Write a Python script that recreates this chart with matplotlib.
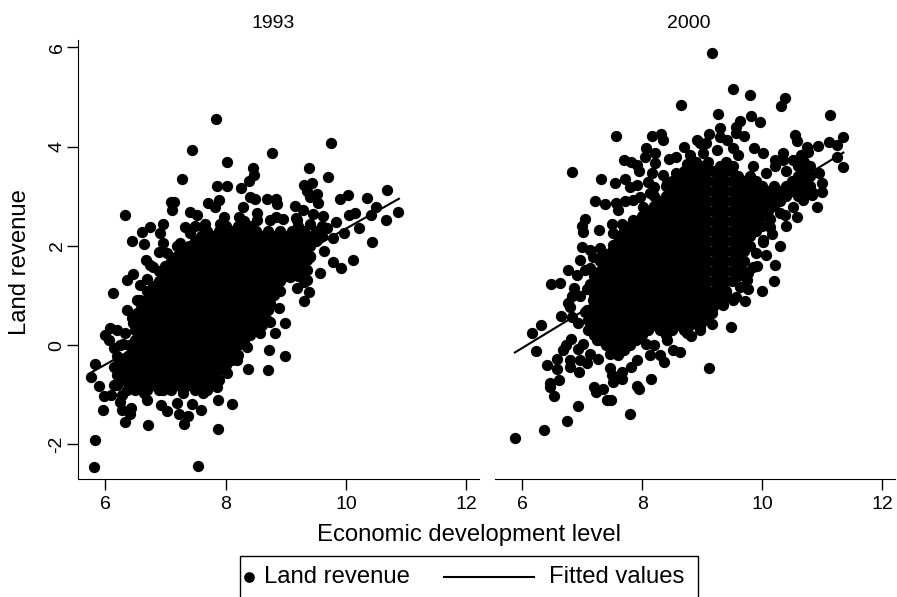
import matplotlib
matplotlib.use("Agg")
import matplotlib.pyplot as plt
from matplotlib.lines import Line2D
from matplotlib.patches import Rectangle

plt.rcParams['font.family'] = ['Liberation Sans', 'DejaVu Sans']

W, H = 897, 597

# 1993 - points readable on the edge of the cloud
edge93 = [
    (7.84,4.56),(7.44,3.93),(8.02,3.70),(8.77,3.88),(9.75,4.08),(7.28,3.34),(6.33,2.63),(9.38,3.56),
    (9.70,3.38),(8.46,3.56),(8.475,3.43),(8.39,3.30),(8.26,3.17),(7.855,3.21),(8.02,3.21),(9.30,3.23),
    (9.44,3.26),(9.36,3.11),(9.52,3.04),(9.41,2.99),(9.53,2.86),(9.90,2.94),(10.03,3.02),(10.35,2.96),
    (10.68,3.12),(10.50,2.79),(10.87,2.69),(10.66,2.53),(10.42,2.62),(10.15,2.67),(10.05,2.62),(10.21,2.37),
    (10.44,2.08),(10.11,1.71),(9.92,1.55),(9.79,1.68),(9.64,1.90),(9.57,1.45),(9.96,2.25),(9.79,2.15),
    (9.83,2.49),(5.76,-0.64),(5.83,-0.39),(5.90,-0.83),(5.98,-1.03),(6.09,-1.01),(5.96,-1.30),(6.33,-1.55),
    (6.71,-1.61),(7.31,-1.59),(7.38,-1.44),(7.88,-1.70),(5.83,-1.91),(5.81,-2.45),(7.55,-2.43),(7.88,-1.11),
    (8.10,-1.18),(7.59,-1.30),(7.22,-1.39),(7.02,-1.32),(6.93,-1.21),(7.20,-1.16),(7.44,-1.18),(6.42,-1.39),
    (6.43,-1.26),(6.28,-1.31),(6.25,-1.14),(6.28,-1.01),(6.70,-1.11),(8.37,-0.49),(8.71,-0.50),(8.99,-0.23),
    (8.73,-0.10),(8.82,0.24),(8.99,0.44),(8.74,0.47),(8.89,0.74),(9.31,0.88),(9.38,1.06),(9.18,1.16),
    (9.30,1.28),(8.85,1.08),(9.35,1.51),(9.36,1.71),(6.13,1.04),(6.36,0.71),(6.53,0.91),(6.37,1.31),
    (6.46,1.44),(6.58,1.21),(6.69,1.34),(6.68,1.71),(6.75,1.61),(6.45,2.09),(6.65,2.04),(6.61,2.27),
    (6.74,2.39),(6.97,2.45),(6.92,2.25),(6.96,2.05),(6.90,1.88),(7.20,2.00),(7.10,2.89),(7.15,2.89),
    (7.11,2.72),(7.41,2.69),(7.52,2.62),(7.33,2.39),(7.50,2.40),(7.66,2.44),(7.71,2.86),(7.89,2.92),
    (7.83,2.78),(7.97,2.59),(8.29,2.78),(8.22,2.59),(8.41,2.98),(8.49,2.94),(8.69,2.94),(8.84,2.94),
    (8.86,2.84),(8.52,2.67),(8.84,2.59),(8.96,2.55),(9.16,2.80),(9.29,2.72),(9.17,2.57),(9.46,2.64),
    (9.62,2.60),(6.00,0.20),(6.08,0.34),(6.19,0.30),(6.06,0.11),(6.14,-0.05),(6.25,0.00),(6.44,0.54),
    (6.19,-0.50),(6.17,-0.81),
    (6.53,0.64),(6.58,0.91),(6.47,0.44),(6.33,0.24),(6.30,0.03),(6.19,-0.23),(6.14,-0.44),(6.80,1.58),
    (7.03,1.85),(7.25,2.05),(7.41,2.25),(7.63,2.39),(7.91,2.45),(8.52,2.52),(8.74,2.52),(9.18,2.52),
    (9.41,2.45),(9.68,2.35),(9.52,2.12),(9.41,1.78),(9.35,1.31),(9.07,1.38),(8.85,1.18),(8.74,0.84),
    (8.69,0.50),(8.58,0.24),(8.35,-0.03),(8.19,-0.30),(8.02,-0.57),(7.86,-0.84),(7.63,-0.97),(7.30,-0.97),
    (6.97,-0.91),(6.64,-0.97),(6.36,-0.91),(6.14,-0.81),
]

# 1993 - the solid middle, dots can't be told apart there so read as columns
core93_x = [6.2, 6.3, 6.4, 6.5, 6.6, 6.7, 6.8, 6.9, 7.0, 7.1, 7.2, 7.3, 7.4, 7.5, 7.6, 7.7, 7.8, 7.9,
            8.0, 8.1, 8.2, 8.3, 8.4, 8.5, 8.6, 8.7, 8.8, 8.9, 9.0, 9.1, 9.2, 9.3, 9.4, 9.5, 9.6]
core93_y = [
    [-0.8,-0.6,-0.4],
    [-0.7,-0.5,-0.3],
    [-0.8,-0.6,-0.4,-0.2,0],
    [-0.9,-0.7,-0.5,-0.3,-0.1,0.1,0.3,0.5],
    [-0.8,-0.6,-0.4,-0.2,0,0.2,0.4,0.6,0.8],
    [-0.9,-0.7,-0.5,-0.3,-0.1,0.1,0.3,0.5,0.7,0.9,1.1],
    [-0.8,-0.6,-0.4,-0.2,0,0.2,0.4,0.6,0.8,1.0,1.2],
    [-0.9,-0.7,-0.5,-0.3,-0.1,0.1,0.3,0.5,0.7,0.9,1.1,1.3,1.5],
    [-0.8,-0.6,-0.4,-0.2,0,0.2,0.4,0.6,0.8,1.0,1.2,1.4,1.6],
    [-0.9,-0.7,-0.5,-0.3,-0.1,0.1,0.3,0.5,0.7,0.9,1.1,1.3,1.5,1.7],
    [-0.8,-0.6,-0.4,-0.2,0,0.2,0.4,0.6,0.8,1.0,1.2,1.4,1.6,1.8],
    [-0.9,-0.7,-0.5,-0.3,-0.1,0.1,0.3,0.5,0.7,0.9,1.1,1.3,1.5,1.7,1.9],
    [-0.8,-0.6,-0.4,-0.2,0,0.2,0.4,0.6,0.8,1.0,1.2,1.4,1.6,1.8,2.0],
    [-0.9,-0.7,-0.5,-0.3,-0.1,0.1,0.3,0.5,0.7,0.9,1.1,1.3,1.5,1.7,1.9,2.1],
    [-0.8,-0.6,-0.4,-0.2,0,0.2,0.4,0.6,0.8,1.0,1.2,1.4,1.6,1.8,2.0,2.2],
    [-0.9,-0.7,-0.5,-0.3,-0.1,0.1,0.3,0.5,0.7,0.9,1.1,1.3,1.5,1.7,1.9,2.1,2.3],
    [-0.8,-0.6,-0.4,-0.2,0,0.2,0.4,0.6,0.8,1.0,1.2,1.4,1.6,1.8,2.0,2.2],
    [-0.7,-0.5,-0.3,-0.1,0.1,0.3,0.5,0.7,0.9,1.1,1.3,1.5,1.7,1.9,2.1,2.3],
    [-0.4,-0.2,0,0.2,0.4,0.6,0.8,1.0,1.2,1.4,1.6,1.8,2.0,2.2,2.4],
    [-0.3,-0.1,0.1,0.3,0.5,0.7,0.9,1.1,1.3,1.5,1.7,1.9,2.1,2.3],
    [-0.2,0,0.2,0.4,0.6,0.8,1.0,1.2,1.4,1.6,1.8,2.0,2.2,2.4],
    [0.1,0.3,0.5,0.7,0.9,1.1,1.3,1.5,1.7,1.9,2.1,2.3,2.5],
    [0.2,0.4,0.6,0.8,1.0,1.2,1.4,1.6,1.8,2.0,2.2,2.4],
    [0.3,0.5,0.7,0.9,1.1,1.3,1.5,1.7,1.9,2.1,2.3],
    [0.4,0.6,0.8,1.0,1.2,1.4,1.6,1.8,2.0,2.2],
    [0.7,0.9,1.1,1.3,1.5,1.7,1.9,2.1,2.3],
    [1.0,1.2,1.4,1.6,1.8,2.0,2.2],
    [1.1,1.3,1.5,1.7,1.9,2.1,2.3],
    [1.4,1.6,1.8,2.0,2.2],
    [1.5,1.7,1.9,2.1,2.3],
    [1.4,1.6,1.8,2.0,2.2,2.4],
    [1.5,1.7,1.9,2.1,2.3],
    [1.8,2.0,2.2],
    [2.1,2.3],
    [2.2,2.4],
]

fit93_x = [5.76, 10.88]
fit93_y = [-0.56, 2.95]

# 2000
edge00 = [
    (9.17,5.88),(9.51,5.17),(9.80,5.05),(10.38,4.99),(10.31,4.82),(8.65,4.83),(9.27,4.65),(11.12,4.63),
    (9.81,4.62),(9.97,4.50),(9.63,4.51),(9.57,4.39),(9.30,4.38),(9.70,4.22),(9.56,4.27),(7.57,4.21),
    (8.17,4.21),(8.32,4.26),(8.35,4.13),(9.11,4.25),(8.91,4.13),(9.07,4.08),(9.41,4.13),(8.70,4.00),
    (10.54,4.23),(10.57,4.11),(10.74,4.00),(10.93,4.01),(11.11,4.09),(11.34,4.19),(11.24,4.03),(11.25,3.80),
    (11.35,3.58),(10.95,3.46),(10.99,3.26),(10.99,3.09),(10.91,2.78),(10.58,2.58),(10.40,2.41),(10.38,2.62),
    (6.84,3.48),(7.32,3.35),(7.21,2.90),(7.05,2.54),(7.00,2.40),(7.02,2.27),(7.28,2.31),(7.00,1.97),
    (6.77,1.51),(6.48,1.24),(6.63,1.26),(6.87,1.16),(6.31,0.40),(6.16,0.24),(6.65,0.59),(6.24,-0.12),
    (6.41,-0.40),(6.58,-0.29),(6.58,-0.49),(6.47,-0.77),(6.47,-0.84),(6.62,-0.70),(6.54,-1.02),(6.94,-1.22),
    (6.75,-1.54),(6.36,-1.71),(5.88,-1.87),(7.79,-1.39),(9.11,-0.46),(9.48,0.36),(9.16,0.43),
    (7.70,3.73),(7.81,3.70),(7.92,3.63),(7.94,3.50),(8.07,3.97),(8.05,3.80),(8.21,3.87),(8.21,3.68),
    (8.45,3.76),(8.17,3.47),(8.35,3.43),(7.55,3.27),(7.71,3.34),(7.80,3.19),(7.91,3.23),(8.10,3.29),
    (8.20,3.19),(7.38,2.84),(7.57,2.87),(7.71,2.91),(7.60,2.72),(7.85,2.92),(7.49,2.45),(7.66,2.45),
    (7.52,2.25),(7.13,1.92),(7.30,1.95),(6.97,1.71),(7.19,1.78),(6.91,1.41),(7.05,1.51),(7.13,1.55),
    (7.13,1.24),(7.09,1.14),(6.83,0.98),(6.97,0.98),(6.77,0.84),(6.80,0.77),(6.83,0.57),(6.94,0.44),
    (7.05,0.67),(6.74,0.00),(6.69,-0.10),(6.81,0.12),(6.94,-0.07),(7.02,0.02),(6.80,-0.30),(6.80,-0.44),
    (6.95,-0.54),(7.09,-0.37),(7.27,-0.29),(7.13,-0.17),(6.97,-0.30),(7.46,-0.47),(7.49,-0.60),(7.52,-0.75),
    (7.66,-0.54),(7.67,-0.69),(7.82,-0.44),(7.92,-0.30),(7.20,-0.85),(7.23,-0.95),(7.35,-0.89),(7.41,-1.11),
    (7.48,-1.11),(7.91,-0.83),(7.95,-0.89),(8.15,-0.69),(8.13,-0.20),(8.30,-0.20),(8.36,-0.34),(8.63,-0.14),
    (8.51,-0.10),(8.19,0.00),(8.81,0.19),(8.96,0.30),(9.16,0.64),(9.34,0.80),(9.52,0.91),(9.71,0.89),
    (9.57,0.97),(10.00,1.08),(10.19,1.30),(10.22,1.61),(9.92,1.60),(9.77,1.14),(9.77,1.45),(10.07,1.82),
    (10.29,2.00),(10.17,2.23),(10.01,2.08),(10.13,2.55),(9.86,3.97),(10.02,3.88),(10.34,3.88),(10.21,3.73),
    (10.21,3.61),(10.40,3.50),(10.35,3.73),(10.68,2.92),(10.82,3.03),(9.30,4.20),(9.24,3.93),(9.52,3.97),
    (9.60,3.83),(8.96,4.07),(8.57,3.80),(8.79,3.83),(9.02,3.87),
    (7.30,1.71),(7.35,1.85),(7.52,2.02),(7.74,2.39),(7.85,2.52),(8.02,2.79),(7.96,2.99),(8.13,3.06),
    (8.41,3.26),(8.57,3.46),(8.74,3.66),(7.16,1.21),(7.19,0.91),(7.08,0.71),(7.13,0.37),(7.24,0.10),
    (7.46,-0.17),(8.07,0.03),(8.41,0.10),(8.74,0.24),(8.96,0.37),(9.07,0.50),(9.18,0.77),(9.41,0.97),
    (9.63,1.18),(9.74,1.31),(9.85,1.58),(9.90,1.85),(10.02,2.12),(10.13,2.39),(10.29,2.66),(10.51,2.79),
    (10.07,3.46),(9.85,3.60),(9.52,3.60),(10.51,3.73),(10.65,3.83),(10.76,3.90),(10.65,3.46),(10.85,3.06),
    (10.65,3.13),
]

core00_x = [7.1, 7.2, 7.3, 7.4, 7.5, 7.6, 7.7, 7.8, 7.9, 8.0, 8.1, 8.2, 8.3, 8.4, 8.5, 8.6, 8.7, 8.8, 8.9,
            9.0, 9.1, 9.2, 9.3, 9.4, 9.5, 9.6, 9.7, 9.8, 9.9, 10.0, 10.1, 10.2, 10.3, 10.4, 10.5, 10.6, 10.7, 10.8]
core00_y = [
    [0.3,0.5,0.7],
    [0.2,0.4,0.6,0.8,1.0,1.2,1.4],
    [0.1,0.3,0.5,0.7,0.9,1.1,1.3,1.5,1.7],
    [0,0.2,0.4,0.6,0.8,1.0,1.2,1.4,1.6,1.8],
    [-0.1,0.1,0.3,0.5,0.7,0.9,1.1,1.3,1.5,1.7,1.9],
    [-0.2,0,0.2,0.4,0.6,0.8,1.0,1.2,1.4,1.6,1.8,2.0,2.2],
    [-0.1,0.1,0.3,0.5,0.7,0.9,1.1,1.3,1.5,1.7,1.9,2.1,2.3],
    [0,0.2,0.4,0.6,0.8,1.0,1.2,1.4,1.6,1.8,2.0,2.2,2.4],
    [0.1,0.3,0.5,0.7,0.9,1.1,1.3,1.5,1.7,1.9,2.1,2.3,2.5],
    [0.2,0.4,0.6,0.8,1.0,1.2,1.4,1.6,1.8,2.0,2.2,2.4,2.6],
    [0.3,0.5,0.7,0.9,1.1,1.3,1.5,1.7,1.9,2.1,2.3,2.5,2.7],
    [0.4,0.6,0.8,1.0,1.2,1.4,1.6,1.8,2.0,2.2,2.4,2.6,2.8,3.0],
    [0.3,0.5,0.7,0.9,1.1,1.3,1.5,1.7,1.9,2.1,2.3,2.5,2.7,2.9],
    [0.2,0.4,0.6,0.8,1.0,1.2,1.4,1.6,1.8,2.0,2.2,2.4,2.6,2.8,3.0,3.2],
    [0.3,0.5,0.7,0.9,1.1,1.3,1.5,1.7,1.9,2.1,2.3,2.5,2.7,2.9,3.1,3.3],
    [0.4,0.6,0.8,1.0,1.2,1.4,1.6,1.8,2.0,2.2,2.4,2.6,2.8,3.0,3.2,3.4],
    [0.3,0.5,0.7,0.9,1.1,1.3,1.5,1.7,1.9,2.1,2.3,2.5,2.7,2.9,3.1,3.3,3.5],
    [0.4,0.6,0.8,1.0,1.2,1.4,1.6,1.8,2.0,2.2,2.4,2.6,2.8,3.0,3.2,3.4,3.6],
    [0.5,0.7,0.9,1.1,1.3,1.5,1.7,1.9,2.1,2.3,2.5,2.7,2.9,3.1,3.3,3.5,3.7],
    [0.6,0.8,1.0,1.2,1.4,1.6,1.8,2.0,2.2,2.4,2.6,2.8,3.0,3.2,3.4,3.6],
    [0.7,0.9,1.1,1.3,1.5,1.7,1.9,2.1,2.3,2.5,2.7,2.9,3.1,3.3,3.5,3.7],
    [0.9,1.1,1.3,1.5,1.7,1.9,2.1,2.3,2.5,2.7,2.9,3.1,3.3,3.5],
    [1.0,1.2,1.4,1.6,1.8,2.0,2.2,2.4,2.6,2.8,3.0,3.2,3.4,3.6],
    [1.1,1.3,1.5,1.7,1.9,2.1,2.3,2.5,2.7,2.9,3.1,3.3,3.5,3.7],
    [1.3,1.5,1.7,1.9,2.1,2.3,2.5,2.7,2.9,3.1,3.3,3.5],
    [1.4,1.6,1.8,2.0,2.2,2.4,2.6,2.8,3.0,3.2,3.4],
    [1.5,1.7,1.9,2.1,2.3,2.5,2.7,2.9,3.1,3.3],
    [2.0,2.2,2.4,2.6,2.8,3.0,3.2,3.4],
    [2.3,2.5,2.7,2.9,3.1,3.3],
    [2.4,2.6,2.8,3.0,3.2],
    [2.7,2.9,3.1],
    [2.8,3.0,3.2],
    [2.9,3.1],
    [3.0,3.2],
    [3.1,3.3],
    [3.0,3.2,3.4,3.6],
    [3.1,3.3,3.5,3.7],
    [3.2,3.4,3.6],
]

fit00_x = [5.88, 11.35]
fit00_y = [-0.15, 3.88]

xticks = [6, 8, 10, 12]
yticks = [-2, 0, 2, 4, 6]
ylabels = ['-2', '0', '2', '4', '6']


def flatten(edge, core_x, core_y):
    xs = [p[0] for p in edge]
    ys = [p[1] for p in edge]
    for cx, col in zip(core_x, core_y):
        for v in col:
            xs.append(cx)
            ys.append(v)
    return xs, ys


def make_axes(fig, left, right):
    # pixel box -> figure fractions
    ax = fig.add_axes([left / W, 1 - 479 / H, (right - left) / W, (479 - 40) / H])
    ax.set_xlim(5.55, 12.21)
    ax.set_ylim(-2.70, 6.15)
    ax.set_xticks(xticks)
    ax.set_yticks(yticks, labels=ylabels)
    ax.spines['top'].set_visible(False)
    ax.spines['right'].set_visible(False)
    ax.tick_params(axis='x', length=8, width=1, labelsize=14, pad=4)
    ax.tick_params(axis='y', length=8, width=1, labelsize=14, pad=1)
    for lab in ax.get_yticklabels():
        lab.set_rotation(90)
        lab.set_va('center')
    return ax


fig = plt.figure(figsize=(W / 100, H / 100), dpi=100)

ax1 = make_axes(fig, 78, 479)
ax2 = make_axes(fig, 495, 895)

x93, y93 = flatten(edge93, core93_x, core93_y)
x00, y00 = flatten(edge00, core00_x, core00_y)

ax1.plot(fit93_x, fit93_y, color='black', lw=1.5)
ax1.scatter(x93, y93, s=66, color='black', linewidths=0, clip_on=False, zorder=3)
ax2.plot(fit00_x, fit00_y, color='black', lw=1.5)
ax2.scatter(x00, y00, s=66, color='black', linewidths=0, clip_on=False, zorder=3)

ax2.spines['left'].set_visible(False)
ax2.tick_params(axis='y', left=False, labelleft=False)

fig.text(273 / W, 1 - 23 / H, '1993', ha='center', va='center', fontsize=14)
fig.text(689 / W, 1 - 23 / H, '2000', ha='center', va='center', fontsize=14)
fig.text(469 / W, 1 - 535 / H, 'Economic development level', ha='center', va='center', fontsize=17.2)
fig.text(20 / W, 1 - 262 / H, 'Land revenue', ha='center', va='center', rotation=90, fontsize=17.2)

# legend box runs off the bottom of the image
fig.add_artist(Rectangle((239.5 / W, -0.05), (698 - 239.5) / W, 1 - 556 / H + 0.05, transform=fig.transFigure,
                         fill=False, edgecolor='black', lw=1))
fig.add_artist(Line2D([249 / W], [1 - 577 / H], marker='o', ms=7.7, color='black', mew=0, transform=fig.transFigure))
fig.text(264 / W, 1 - 577 / H, 'Land revenue', ha='left', va='center', fontsize=17.2)
fig.add_artist(Line2D([444 / W, 534 / W], [1 - 577 / H, 1 - 577 / H], color='black', lw=1.5, transform=fig.transFigure))
fig.text(549 / W, 1 - 577 / H, 'Fitted values', ha='left', va='center', fontsize=17.2)

fig.savefig('out.png', dpi=100)
